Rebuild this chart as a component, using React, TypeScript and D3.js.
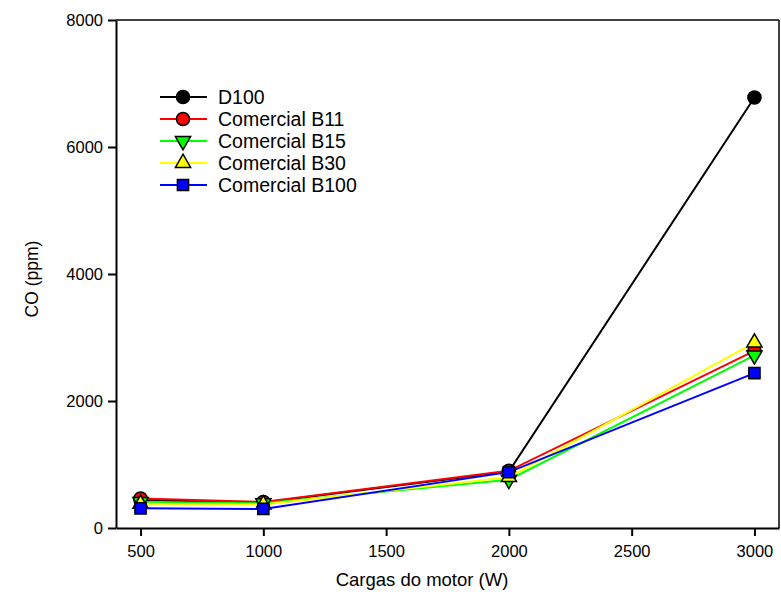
import React, { useEffect, useRef } from 'react'
import * as d3 from 'd3'

const cargas = [500, 1000, 2000, 3000]
const d100 = [440, 400, 890, 6780]
const b11 = [465, 410, 900, 2790]
const b15 = [410, 390, 760, 2720]
const b30 = [380, 370, 800, 2920]
const b100 = [310, 300, 880, 2440]

const xTicks = [500, 1000, 1500, 2000, 2500, 3000]
const yTicks = [0, 2000, 4000, 6000, 8000]

const series = [
  { name: 'D100', values: d100, color: '#000000', fill: '#000000', shape: 'circle' },
  { name: 'Comercial B11', values: b11, color: '#ff0000', fill: '#ff0000', shape: 'circle' },
  { name: 'Comercial B15', values: b15, color: '#00ff00', fill: '#00ff00', shape: 'down' },
  { name: 'Comercial B30', values: b30, color: '#ffff00', fill: '#ffff00', shape: 'up' },
  { name: 'Comercial B100', values: b100, color: '#0000ff', fill: '#0000ff', shape: 'square' },
]

const W = 781
const H = 606
const margin = { top: 20, right: 2, bottom: 78, left: 116 }
const font = '"Liberation Sans", Arial, sans-serif'

function symbolPath(shape: string) {
  if (shape === 'circle') return d3.symbol().type(d3.symbolCircle).size(135)()
  if (shape === 'square') return d3.symbol().type(d3.symbolSquare).size(125)()
  return d3.symbol().type(d3.symbolTriangle).size(100)()
}

export default function App() {
  const xAxisRef = useRef<SVGGElement>(null)
  const yAxisRef = useRef<SVGGElement>(null)

  const x = d3.scaleLinear().domain([400, 3100]).range([margin.left, W - margin.right])
  const y = d3.scaleLinear().domain([0, 8000]).range([H - margin.bottom, margin.top])

  const line = d3.line<number>()
    .x((d, i) => x(cargas[i]))
    .y((d) => y(d))

  useEffect(() => {
    const xa = d3.select(xAxisRef.current)
    xa.call(d3.axisBottom(x).tickValues(xTicks).tickSize(8).tickSizeOuter(0).tickPadding(9).tickFormat(d3.format('d')) as any)
    xa.selectAll('path, line').attr('stroke', '#000').attr('stroke-width', 2)
    xa.selectAll('text').attr('font-family', font).attr('font-size', 16.5).attr('fill', '#000')

    const ya = d3.select(yAxisRef.current)
    ya.call(d3.axisLeft(y).tickValues(yTicks).tickSize(8).tickSizeOuter(0).tickPadding(5).tickFormat(d3.format('d')) as any)
    ya.selectAll('path, line').attr('stroke', '#000').attr('stroke-width', 2)
    ya.selectAll('text').attr('font-family', font).attr('font-size', 16.5).attr('fill', '#000')
  }, [])

  const legendX = 160
  const legendY = 97
  const legendStep = 22

  return (
    <div style={{ position: 'absolute', left: 0, top: 0 }}>
      <svg width={W} height={H} style={{ display: 'block', background: '#fff' }}>
        {/* frame top and right */}
        <line x1={margin.left} x2={W - margin.right} y1={margin.top} y2={margin.top} stroke="#000" strokeWidth={1.5} />
        <line x1={W - margin.right} x2={W - margin.right} y1={margin.top} y2={H - margin.bottom} stroke="#000" strokeWidth={1.5} />

        {series.map((s) => (
          <g key={s.name}>
            <path d={line(s.values) || ''} fill="none" stroke={s.color} strokeWidth={2} />
            {s.values.map((v, i) => (
              <path
                key={i}
                d={symbolPath(s.shape) || ''}
                transform={`translate(${x(cargas[i])},${y(v)})${s.shape === 'down' ? ' rotate(180)' : ''}`}
                fill={s.fill}
                stroke="#000"
                strokeWidth={1.5}
              />
            ))}
          </g>
        ))}

        <g ref={xAxisRef} transform={`translate(0,${H - margin.bottom})`} />
        <g ref={yAxisRef} transform={`translate(${margin.left},0)`} />

        <text x={422} y={H - 20} textAnchor="middle" fontFamily={font} fontSize={18.5}>
          Cargas do motor (W)
        </text>
        <text
          transform={`translate(${38},${279}) rotate(-90)`}
          textAnchor="middle"
          fontFamily={font}
          fontSize={17.5}
        >
          CO (ppm)
        </text>

        {series.map((s, i) => (
          <g key={s.name} transform={`translate(${legendX},${legendY + i * legendStep})`}>
            <line x1={0} x2={47} y1={0} y2={0} stroke={s.color} strokeWidth={2} />
            <path
              d={symbolPath(s.shape) || ''}
              transform={`translate(23,0)${s.shape === 'down' ? ' rotate(180)' : ''}`}
              fill={s.fill}
              stroke="#000"
              strokeWidth={1.5}
            />
            <text x={58} y={0} dy="0.35em" fontFamily={font} fontSize={19.5}>
              {s.name}
            </text>
          </g>
        ))}
      </svg>
    </div>
  )
}
